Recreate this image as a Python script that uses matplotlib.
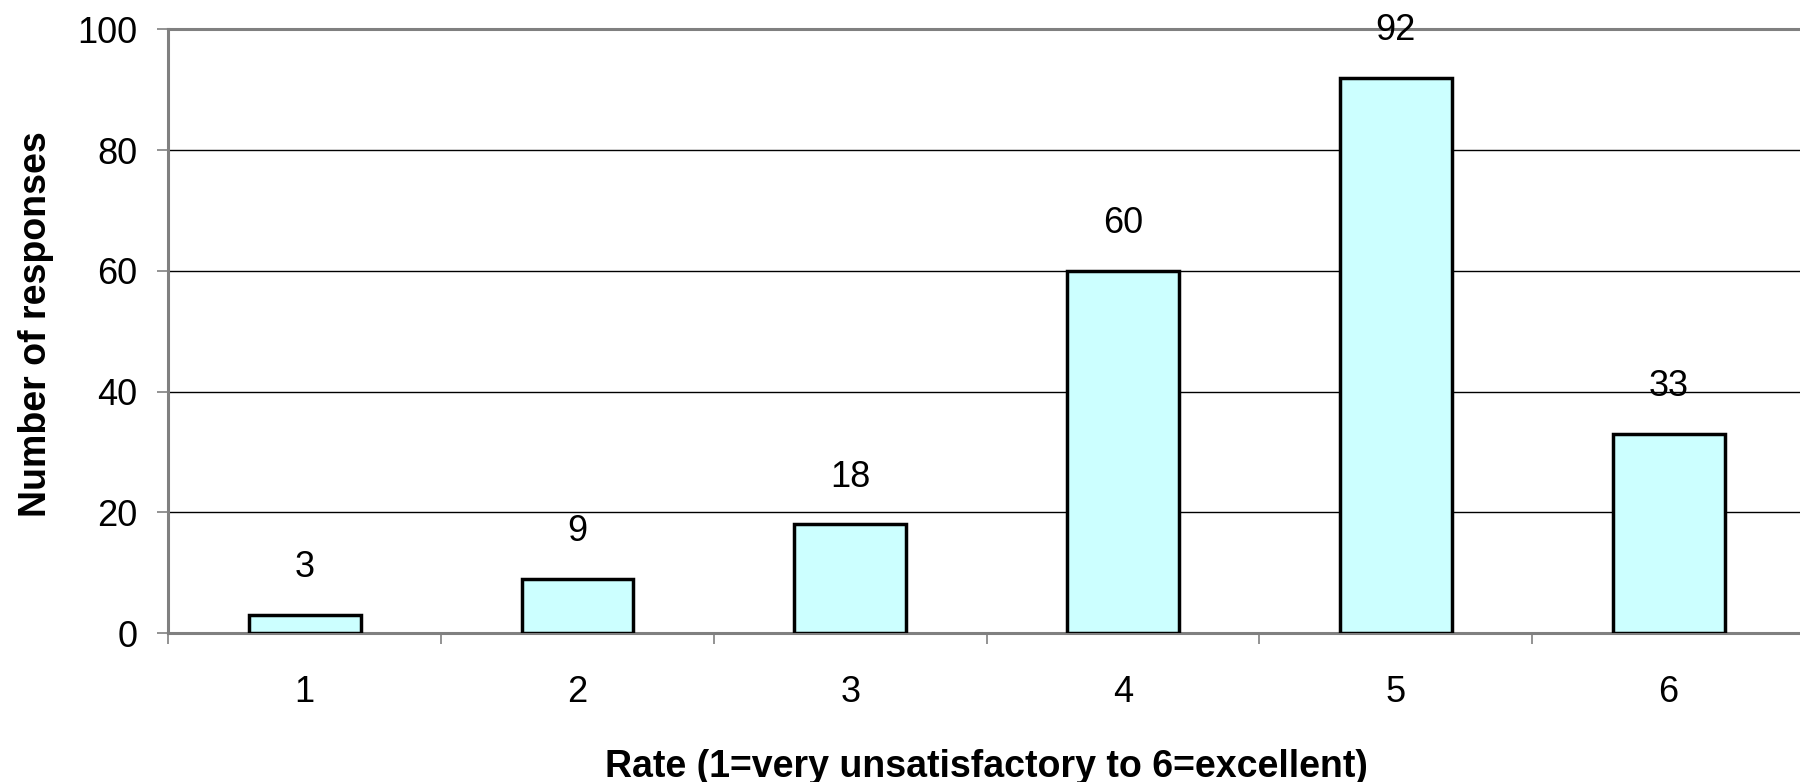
import matplotlib
matplotlib.use('Agg')
import matplotlib.pyplot as plt
import numpy as np

# data
rates = ['1', '2', '3', '4', '5', '6']
responses = [3, 9, 18, 60, 92, 33]
y_ticks = [0, 20, 40, 60, 80, 100]

plt.rcParams['font.family'] = ['Liberation Sans', 'DejaVu Sans']

fig = plt.figure(figsize=(18, 7.82), dpi=100)
ax = fig.add_axes([0.0935, 0.1905, 0.9093, 0.772])

x = np.arange(len(rates))
bars = ax.bar(x, responses, width=0.41, color='#CCFFFF', edgecolor='black',
              linewidth=2.5, zorder=3)

for xi, v in zip(x, responses):
    ax.annotate(str(v), (xi, v), xytext=(0, 34), textcoords='offset points',
                ha='center', va='center', fontsize=26, zorder=4)

ax.set_xlim(-0.5, len(rates) - 0.5)
ax.set_ylim(0, 100)
ax.set_yticks(y_ticks)
ax.set_yticklabels([str(t) for t in y_ticks], fontsize=26)
ax.yaxis.grid(True, color='black', linewidth=1.0, zorder=0)
ax.set_axisbelow(True)

# category labels centred, tick marks between categories
ax.set_xticks(x)
ax.set_xticklabels(rates, fontsize=26)
ax.set_xticks(np.arange(len(rates) + 1) - 0.5, minor=True)
ax.tick_params(axis='x', which='major', length=0, pad=30)
ax.tick_params(axis='x', which='minor', length=8, width=1.2, color='#808080',
               direction='out')
ax.tick_params(axis='y', length=8, width=1.2, color='#808080', pad=14)

for side in ['left', 'bottom', 'top']:
    ax.spines[side].set_color('#808080')
    ax.spines[side].set_linewidth(2.2)
ax.spines['right'].set_visible(False)

ax.set_ylabel('Number of responses', fontsize=27, fontweight='bold', va='center')
ax.yaxis.set_label_coords(-0.081, 0.512)
ax.set_xlabel('Rate (1=very unsatisfactory to 6=excellent)', fontsize=27,
              fontweight='bold', va='center')
ax.xaxis.set_label_coords(0.5, -0.222)

fig.savefig('out.png', dpi=100)
